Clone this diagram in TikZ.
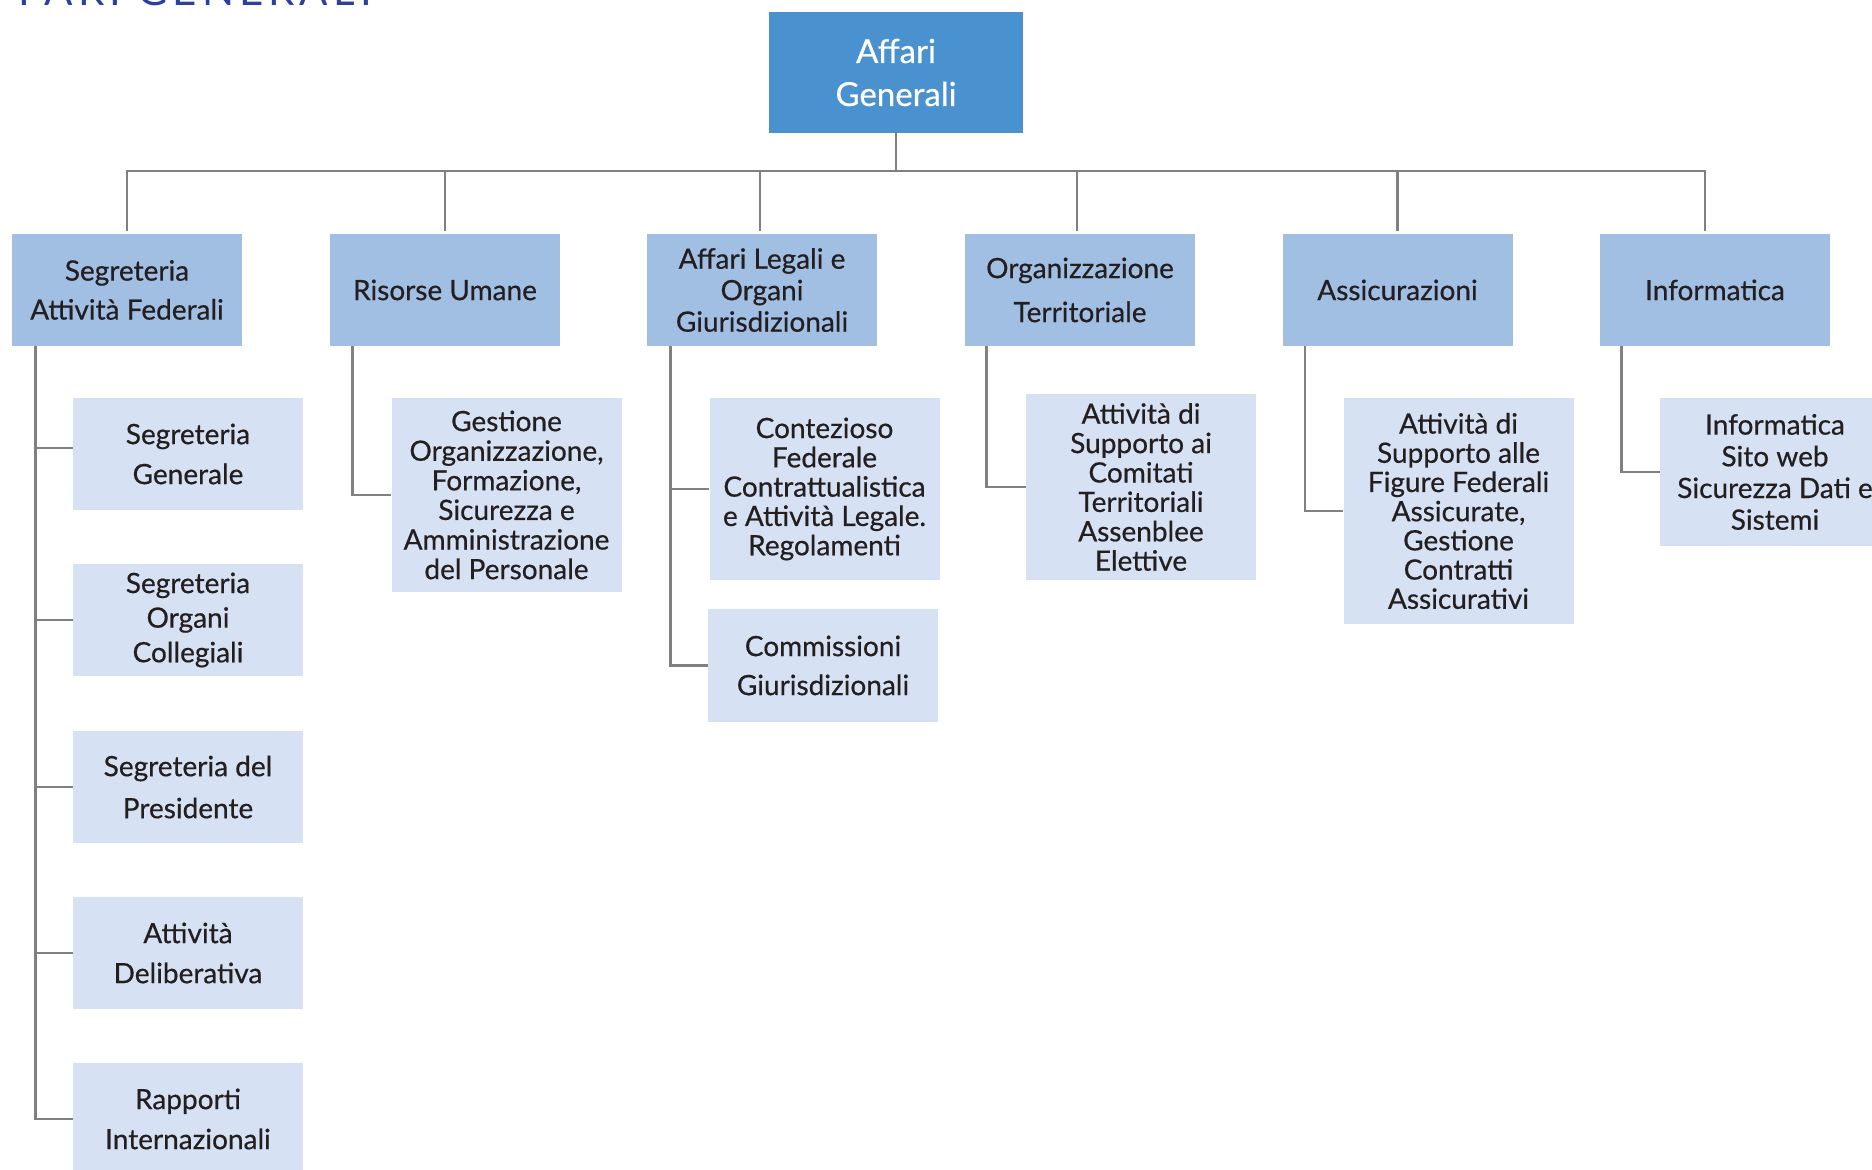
\documentclass[tikz,border=0pt]{standalone}
\usepackage{fontspec}
\setmainfont{Lato}[FakeBold=0.5]
\newfontfamily\titlefont[LetterSpace=12]{Lato}

\definecolor{topblue}{HTML}{4A91D0}
\definecolor{midblue}{HTML}{A1BEE3}
\definecolor{paleblue}{HTML}{D6E1F3}
\definecolor{linegray}{HTML}{808083}
\definecolor{ink}{HTML}{231F20}
\definecolor{titleblue}{HTML}{2B3FA0}

\tikzset{
  box/.style={rectangle, inner sep=0pt, align=center, text=ink, minimum width=115pt},
  ls/.style={font=\fontsize{14pt}{#1}\selectfont},
  ls/.default=20pt,
  headbox/.style={box, fill=topblue, text=white, minimum width=127pt, minimum height=60.5pt,
    font=\fontsize{16.5pt}{21.5pt}\selectfont},
  areabox/.style={box, fill=midblue, minimum height=56pt},
  unitbox/.style={box, fill=paleblue, minimum height=56pt},
  link/.style={draw=linegray, line width=1.35pt},
  drop/.style={link, shorten >=1.5pt},
}

\begin{document}
\begin{tikzpicture}[x=0.5pt, y=-0.5pt]
  \useasboundingbox (0,0) rectangle (1872,1170);
  \clip (0,0) rectangle (1872,1170);

  % page heading, mostly above the frame
  \node[anchor=base east, inner sep=0pt, text=titleblue,
        font=\titlefont\fontsize{21pt}{21pt}\selectfont] (title) at (372,6) {AFFARI GENERALI};

  % head of the area
  \node[headbox] (ag) at (896,72.5) {Affari\\Generali};

  % second level
  \node[areabox, ls=19.5pt] (sa)  at (127,290)    {Segreteria\\Attività Federali};
  \node[areabox, ls]        (ru)  at (445,290)    {Risorse Umane};
  \node[areabox, ls=15.75pt](al)  at (762,290)    {Affari Legali e\\Organi\\Giurisdizionali};
  \node[areabox, ls=22pt]   (ot)  at (1080,290)   {Organizzazione\\Territoriale};
  \node[areabox, ls]        (as)  at (1397.5,290) {Assicurazioni};
  \node[areabox, ls]        (inf) at (1715,290)   {Informatica};

  % third level: Segreteria Attività Federali
  \node[unitbox, ls=20pt]   (sg)  at (188,454)  {Segreteria\\Generale};
  \node[unitbox, ls=17.3pt] (soc) at (188,620)  {Segreteria\\Organi\\Collegiali};
  \node[unitbox, ls=21pt]   (sdp) at (188,787)  {Segreteria del\\Presidente};
  \node[unitbox, ls=20pt]   (ad)  at (188,953)  {Attività\\Deliberativa};
  \node[unitbox, ls=20pt]   (ri)  at (188,1119) {Rapporti\\Internazionali};

  % third level: other areas
  \node[unitbox, ls=14.8pt, minimum height=97pt] (ges) at (506.5,495)
    {Gestione\\Organizzazione,\\Formazione,\\Sicurezza e\\Amministrazione\\del Personale};
  \node[unitbox, ls=14.65pt, minimum height=91pt] (cont) at (824.5,489)
    {Contezioso\\Federale\\Contrattualistica\\e Attività Legale.\\Regolamenti};
  \node[unitbox, ls=19.5pt, minimum height=56.5pt] (comm) at (823,665.5)
    {Commissioni\\Giurisdizionali};
  \node[unitbox, ls=14.7pt, minimum height=93pt] (com) at (1141,487)
    {Attività di\\Supporto ai\\Comitati\\Territoriali\\Assenblee\\Elettive};
  \node[unitbox, ls=14.6pt, minimum height=113pt] (fig) at (1458.5,511)
    {Attività di\\Supporto alle\\Figure Federali\\Assicurate,\\Gestione\\Contratti\\Assicurativi};
  \node[unitbox, ls=15.85pt, minimum height=74pt] (isw) at (1775,472)
    {Informatica\\Sito web\\Sicurezza Dati e\\Sistemi};

  % head to second level
  \coordinate (bus) at (896,171);
  \draw[link] (ag.south) -- (bus);
  \draw[drop] (bus) -| (sa.north);
  \draw[drop] (bus) -| (ru.north);
  \draw[drop] (bus) -| ([xshift=-1pt]al.north);
  \draw[drop] (bus) -| ([xshift=-1.5pt]ot.north);
  \draw[drop] (bus) -| (as.north);
  \draw[drop] (bus) -| ([xshift=-5pt]inf.north);

  % second level to third level
  \draw[link] ([xshift=12pt]sa.south west) |- ([yshift=3pt]sg.west);
  \draw[link] ([xshift=12pt]sa.south west) |- (soc.west);
  \draw[link] ([xshift=12pt]sa.south west) |- (sdp.west);
  \draw[link] ([xshift=12pt]sa.south west) |- (ad.west);
  \draw[link] ([xshift=12pt]sa.south west) |- (ri.west);

  \draw[link] ([xshift=11.5pt]ru.south west) |- (ges.west);

  \draw[link] ([xshift=12pt]al.south west) |- (cont.west);
  \draw[link] ([xshift=12pt]al.south west) |- (comm.west);

  \draw[link] ([xshift=11pt]ot.south west) |- (com.west);

  \draw[link] ([xshift=11.5pt]as.south west) |- (fig.west);

  \draw[link] ([xshift=11pt]inf.south west) |- (isw.west);
\end{tikzpicture}
\end{document}
